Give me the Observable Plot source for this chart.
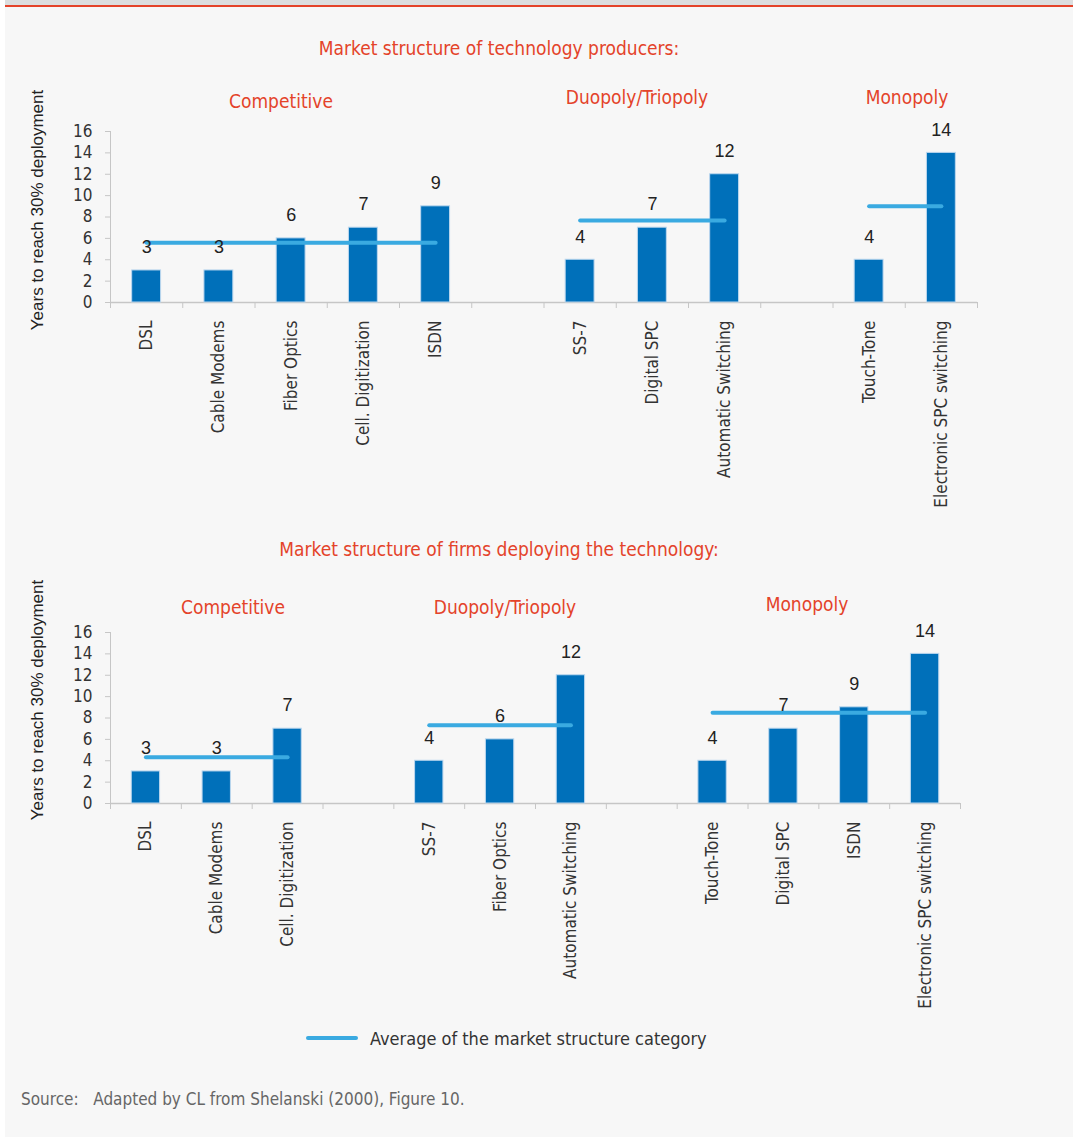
<!DOCTYPE html>
<html><head><meta charset="utf-8">
<script src="https://cdn.jsdelivr.net/npm/d3@7"></script>
<script src="https://cdn.jsdelivr.net/npm/@observablehq/plot@0.6"></script>
<style>
  html,body{margin:0;padding:0;background:#fff;}
  #page{position:relative;width:1073px;height:1137px;background:#f7f7f7;overflow:hidden;
    font-family:"Liberation Sans Narrow","DejaVu Sans Condensed","Roboto Condensed",sans-serif;}
  .abs{position:absolute;white-space:pre;}
  .red{color:#e4432a;font-size:19px;transform:translate(-50%,-50%);}
  .ytitle{font-family:"Liberation Sans",Arial,sans-serif;font-size:17px;color:#222;transform:translate(-50%,-50%) rotate(-90deg);}
  svg{position:absolute;left:0;overflow:visible;}
</style>
</head><body>
<div id="page">
  <div class="abs" style="left:0;top:0;width:5px;height:1137px;background:#fff"></div>
  <div class="abs" style="left:5px;top:0;width:1068px;height:5px;background:#dcdedf"></div>
  <div class="abs" style="left:5px;top:5px;width:1068px;height:2px;background:#e4432a"></div>
</div>
<script>
// ---- Data ----
const structures = ["Competitive", "Duopoly/Triopoly", "Monopoly"];

// Panel 1: market structure of technology producers
const producerTech = ["DSL", "Cable Modems", "Fiber Optics", "Cell. Digitization", "ISDN",
  "SS-7", "Digital SPC", "Automatic Switching", "Touch-Tone", "Electronic SPC switching"];
const producerYears = [3, 3, 6, 7, 9, 4, 7, 12, 4, 14];
const producerGroup = ["Competitive", "Competitive", "Competitive", "Competitive", "Competitive",
  "Duopoly/Triopoly", "Duopoly/Triopoly", "Duopoly/Triopoly", "Monopoly", "Monopoly"];

// Panel 2: market structure of firms deploying the technology
const deployerTech = ["DSL", "Cable Modems", "Cell. Digitization", "SS-7", "Fiber Optics",
  "Automatic Switching", "Touch-Tone", "Digital SPC", "ISDN", "Electronic SPC switching"];
const deployerYears = [3, 3, 7, 4, 6, 12, 4, 7, 9, 14];
const deployerGroup = ["Competitive", "Competitive", "Competitive", "Duopoly/Triopoly", "Duopoly/Triopoly",
  "Duopoly/Triopoly", "Monopoly", "Monopoly", "Monopoly", "Monopoly"];

const yTicks = [0, 2, 4, 6, 8, 10, 12, 14, 16];
const texts = {
  title1: "Market structure of technology producers:",
  title2: "Market structure of firms deploying the technology:",
  yLabel: "Years to reach 30% deployment",
  legend: "Average of the market structure category",
  source: "Source:   Adapted by CL from Shelanski (2000), Figure 10."
};

const BAR = "#0070ba", AVG = "#3aaae1", AXIS = "#c6c6c6";
const narrow = '"Liberation Sans Narrow","DejaVu Sans Condensed","Roboto Condensed",sans-serif';
const regular = '"Liberation Sans",Arial,sans-serif';

function buildRows(tech, years, grp) {
  const rows = []; let slot = 0, prev = null;
  tech.forEach((t, i) => {
    if (prev !== null && grp[i] !== prev) slot++;
    rows.push({tech: t, years: years[i], group: grp[i], slot});
    slot++; prev = grp[i];
  });
  return {rows, n: slot};
}

function panel(tech, years, grp, {top, marginRight, marginTop, height, marginBottom}) {
  const {rows, n} = buildRows(tech, years, grp);
  const avgs = structures.map(g => {
    const r = rows.filter(d => d.group === g);
    return {group: g, x1: r[0].slot + 0.5, x2: r[r.length - 1].slot + 0.5, avg: d3.mean(r, d => d.years)};
  });
  const chart = Plot.plot({
    width: 1073, height, marginLeft: 110, marginRight, marginTop, marginBottom,
    style: {background: "transparent", fontFamily: narrow, overflow: "visible"},
    x: {domain: [0, n], axis: null},
    y: {domain: [0, 16], axis: null},
    marks: [
      Plot.axisY(yTicks, {tickSize: 5, stroke: AXIS, strokeOpacity: 1, fontSize: 17, fill: "#333",
        tickPadding: 13, label: null, fontFamily: narrow}),
      Plot.ruleX([0], {y1: 0, y2: 16, stroke: AXIS}),
      Plot.axisX(d3.range(n + 1), {tickSize: 6, stroke: AXIS, strokeOpacity: 1, tickFormat: () => "", label: null}),
      Plot.ruleY([0], {stroke: AXIS, strokeWidth: 1.5}),
      Plot.rectY(rows, {x1: d => d.slot + 0.3, x2: d => d.slot + 0.7, y: "years", fill: BAR, stroke: "#bcd7ee", strokeWidth: 1}),
      Plot.link(avgs, {x1: "x1", x2: "x2", y1: "avg", y2: "avg", stroke: AVG, strokeWidth: 4, strokeLinecap: "round"}),
      Plot.text(rows, {x: d => d.slot + 0.5, y: "years", text: d => String(d.years), dy: -23, fontSize: 18,
        fill: "#222", fontFamily: regular}),
      Plot.text(rows, {x: d => d.slot + 0.5, y: 0, text: "tech", rotate: -90, textAnchor: "end", dy: 18,
        fontSize: 17, fill: "#333", fontFamily: narrow})
    ]
  });
  chart.style.top = top + "px";
  return chart;
}

const page = document.getElementById("page");
page.appendChild(panel(producerTech, producerYears, producerGroup,
  {top: 0, marginRight: 96, marginTop: 131, height: 522, marginBottom: 220}));
page.appendChild(panel(deployerTech, deployerYears, deployerGroup,
  {top: 500, marginRight: 113, marginTop: 132, height: 518, marginBottom: 215}));

function addText(txt, cls, x, y, extra = "") {
  const d = document.createElement("div");
  d.className = "abs " + cls;
  d.style.cssText += `left:${x}px;top:${y}px;` + extra;
  d.textContent = txt;
  page.appendChild(d);
  return d;
}
addText(texts.title1, "red", 499, 48);
addText(structures[0], "red", 281, 101);
addText(structures[1], "red", 637, 97);
addText(structures[2], "red", 907, 97);
addText(texts.title2, "red", 499, 549);
addText(structures[0], "red", 233, 607);
addText(structures[1], "red", 505, 607);
addText(structures[2], "red", 807, 604);
addText(texts.yLabel, "ytitle", 38, 210);
addText(texts.yLabel, "ytitle", 38, 700);

// legend
const leg = document.createElement("div");
leg.className = "abs";
leg.style.cssText = "left:300px;top:1026px;height:24px;display:flex;align-items:center;font-size:18px;color:#333;";
leg.innerHTML = `<svg width="62" height="24" style="position:static"><line x1="8" x2="56" y1="12" y2="12" stroke="${AVG}" stroke-width="4" stroke-linecap="round"/></svg><span style="margin-left:8px">${texts.legend}</span>`;
page.appendChild(leg);
addText(texts.source, "", 21, 1089, "font-size:17px;color:#666;");
</script>
</body></html>
